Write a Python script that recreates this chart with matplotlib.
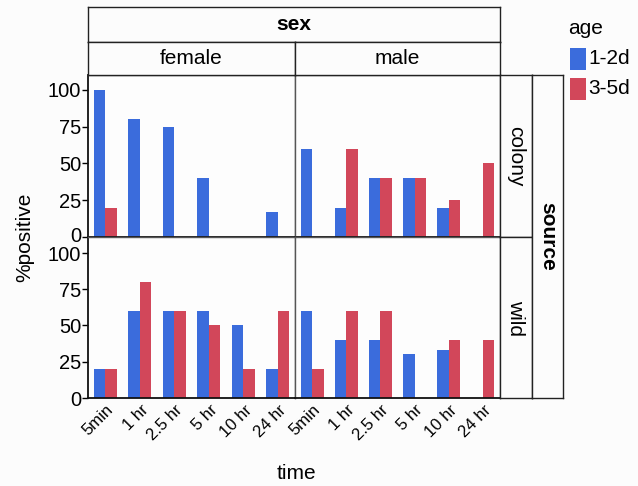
import numpy as np
import matplotlib
matplotlib.use("Agg")
import matplotlib.pyplot as plt
import matplotlib.transforms as mtransforms
from matplotlib.patches import Rectangle

plt.rcParams['font.family'] = ['Liberation Sans', 'DejaVu Sans']

# ---- data ----
times = ["5min", "1 hr", "2.5 hr", "5 hr", "10 hr", "24 hr"]
sexes = ["female", "male"]
sources = ["colony", "wild"]
ages = ["1-2d", "3-5d"]
age_colors = ["#3b6cdc", "#d2475a"]
y_ticks = [0, 25, 50, 75, 100]

nan = np.nan
# %positive per time point, age 1-2d / 3-5d
colony_female_12 = [100, 80, 75, 40, nan, 16.7]
colony_female_35 = [20, nan, nan, nan, nan, nan]
colony_male_12 = [60, 20, 40, 40, 20, nan]
colony_male_35 = [nan, 60, 40, 40, 25, 50]
wild_female_12 = [20, 60, 60, 60, 50, 20]
wild_female_35 = [20, 80, 60, 50, 20, 60]
wild_male_12 = [60, 40, 40, 30, 33.3, nan]
wild_male_35 = [20, 60, 60, nan, 40, 40]

panels = {
    ("colony", "female"): (colony_female_12, colony_female_35),
    ("colony", "male"): (colony_male_12, colony_male_35),
    ("wild", "female"): (wild_female_12, wild_female_35),
    ("wild", "male"): (wild_male_12, wild_male_35),
}

# ---- layout helpers (pixel boxes) ----
W, H = 638, 486
fig = plt.figure(figsize=(W / 100, H / 100), dpi=100)
fig.patch.set_facecolor("#fcfcfc")


def rect(x0, y0, x1, y1):
    return [x0 / W, 1 - y1 / H, (x1 - x0) / W, (y1 - y0) / H]


col_x = {"female": (88, 295), "male": (295, 500)}
row_y = {"colony": (75, 237), "wild": (237, 398)}
row_ylim = {"colony": (0, 110), "wild": (0, 111)}

FS = 15
bw = 0.335
xpos = np.arange(len(times))

for (src, sex), (v12, v35) in panels.items():
    x0, x1 = col_x[sex]
    y0, y1 = row_y[src]
    ax = fig.add_axes(rect(x0, y0, x1, y1))
    ax.set_facecolor("#fdfdfd")
    ax.bar(xpos - bw / 2, v12, width=bw, color=age_colors[0], linewidth=0)
    ax.bar(xpos + bw / 2, v35, width=bw, color=age_colors[1], linewidth=0)
    ax.set_xlim(-0.5, len(times) - 0.5)
    ax.set_ylim(*row_ylim[src])
    for s in ax.spines.values():
        s.set_color("#555555")
        s.set_linewidth(1.0)
    ax.spines["bottom"].set_color("#111111")
    ax.spines["bottom"].set_linewidth(1.3)
    ax.set_yticks(y_ticks)
    ax.set_xticks(xpos)
    if sex == "female":
        ax.spines["left"].set_color("#111111")
        ax.spines["left"].set_linewidth(1.3)
        ax.tick_params(axis="y", length=4, width=1, labelsize=14.5, pad=1)
        # keep the stacked "0" / "100" labels at the panel seam apart
        labs = ax.get_yticklabels()
        if src == "colony":
            nudge = mtransforms.ScaledTranslation(0, 3 / 100, fig.dpi_scale_trans)
            labs[0].set_transform(labs[0].get_transform() + nudge)
        else:
            nudge = mtransforms.ScaledTranslation(0, -1 / 100, fig.dpi_scale_trans)
            labs[-1].set_transform(labs[-1].get_transform() + nudge)
    else:
        ax.tick_params(axis="y", length=0, labelleft=False)
    if src == "wild":
        ax.set_xticklabels(times, rotation=45, ha="right", va="center",
                           rotation_mode="anchor", fontsize=12)
        ax.tick_params(axis="x", length=0, pad=7)
        off = mtransforms.ScaledTranslation(6 / 100, 0, fig.dpi_scale_trans)
        for lab in ax.get_xticklabels():
            lab.set_transform(lab.get_transform() + off)
    else:
        ax.tick_params(axis="x", length=0, labelbottom=False)


def strip(x0, y0, x1, y1, label, rot=0, bold=False):
    sa = fig.add_axes(rect(x0, y0, x1, y1))
    sa.set_facecolor("#fcfcfc")
    sa.set_xticks([])
    sa.set_yticks([])
    for s in sa.spines.values():
        s.set_color("#222222")
        s.set_linewidth(1.0)
    sa.text(0.5, 0.5, label, transform=sa.transAxes, ha="center", va="center",
            rotation=rot, fontsize=FS, fontweight="bold" if bold else "normal")
    return sa


strip(88, 7, 500, 42, "sex", bold=True)
for sex in sexes:
    strip(col_x[sex][0], 42, col_x[sex][1], 75, sex)
for src in sources:
    strip(500, row_y[src][0], 532, row_y[src][1], src, rot=-90)
strip(532, 75, 563, 398, "source", rot=-90, bold=True)

# axis titles
fig.text(25 / W, 1 - 237 / H, "%positive", rotation=90, ha="center",
         va="center", fontsize=FS)
fig.text(296 / W, 1 - 473 / H, "time", ha="center", va="center", fontsize=FS)

# legend
fig.text(568 / W, 1 - 28 / H, "age", ha="left", va="center", fontsize=FS)
for i, (lab, c) in enumerate(zip(ages, age_colors)):
    ytop = 48 + i * 30
    fig.patches.append(Rectangle((570 / W, 1 - (ytop + 22) / H), 16 / W, 22 / H,
                                 transform=fig.transFigure, facecolor=c,
                                 edgecolor="none"))
    fig.text(588 / W, 1 - (ytop + 11) / H, lab, ha="left", va="center",
             fontsize=FS)

fig.savefig("out.png", dpi=100, facecolor=fig.get_facecolor())
